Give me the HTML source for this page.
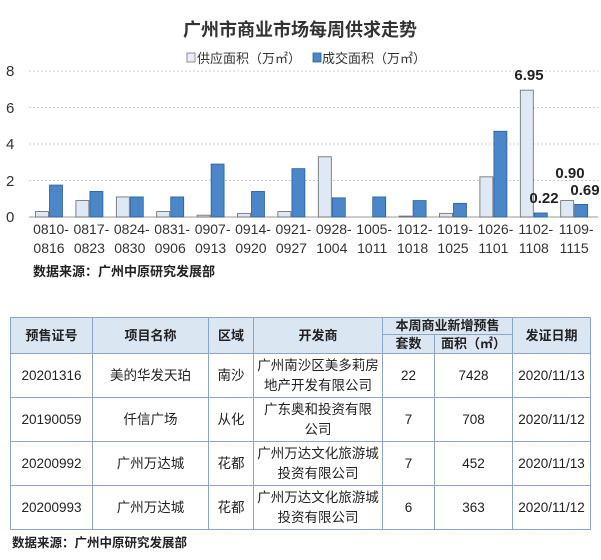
<!DOCTYPE html>
<html><head><meta charset="utf-8"><style>
body{margin:0;background:#fff;width:601px;height:560px;overflow:hidden;position:relative;font-family:"Liberation Sans","Noto Sans CJK SC",sans-serif;}
table{position:absolute;left:10px;top:317px;border-collapse:collapse;width:580px;table-layout:fixed;font-size:13.5px;color:#222}
td,th{border:1.5px solid #8aa5c6;text-align:center;padding:0;line-height:20px}
th{background:#dbe6f3;font-weight:bold;color:#222;font-size:13px;line-height:16px}
.src{position:absolute;font-weight:bold;font-size:12.5px;color:#222}
</style></head><body>
<svg width="601" height="300" style="position:absolute;left:0;top:0" font-family="Liberation Sans, Noto Sans CJK SC, sans-serif">
<text x="300" y="36" text-anchor="middle" font-size="18" font-weight="bold" fill="#333">广州市商业市场每周供求走势</text>
<rect x="187" y="53" width="8" height="9" fill="#e8eef7" stroke="#777" stroke-width="0.8"/>
<text x="197" y="63" font-size="13" fill="#333">供应面积（万㎡）</text>
<rect x="313" y="53" width="8" height="9" fill="#4a86c8" stroke="#2d5f99" stroke-width="0.8"/>
<text x="322" y="63" font-size="13" fill="#333">成交面积（万㎡）</text>
<g stroke="#ccc" stroke-dasharray="2,2" stroke-width="1">
<line x1="29" x2="598" y1="71" y2="71"/><line x1="29" x2="598" y1="107.5" y2="107.5"/><line x1="29" x2="598" y1="144" y2="144"/><line x1="29" x2="598" y1="180.5" y2="180.5"/></g>
<line x1="29" x2="598" y1="217" y2="217" stroke="#999"/>
<g font-size="15" fill="#333"><text x="6" y="76">8</text><text x="6" y="113">6</text><text x="6" y="149">4</text><text x="6" y="186">2</text><text x="6" y="222">0</text></g>
<g id="bars"></g>
<g font-size="15" font-weight="bold" fill="#222" text-anchor="middle">
<text x="529" y="80">6.95</text><text x="544" y="203">0.22</text><text x="570" y="178">0.90</text><text x="585" y="195">0.69</text></g>
<text x="33" y="276" font-size="13" font-weight="bold" fill="#222">数据来源：广州中原研究发展部</text>
</svg>
<script>
var s=[0.3,0.9,1.1,0.3,0.1,0.2,0.3,3.3,0,0.05,0.2,2.2,6.95,0.9],d=[1.75,1.4,1.1,1.1,2.9,1.4,2.65,1.05,1.1,0.9,0.75,4.7,0.22,0.69];
var a=["0810","0817","0824","0831","0907","0914","0921","0928","1005","1012","1019","1026","1102","1109"],b=["0816","0823","0830","0906","0913","0920","0927","1004","1011","1018","1025","1101","1108","1115"];
var h="";for(var i=0;i<14;i++){var c=49+i*40.4,k=18.25;
if(s[i]>0)h+='<rect x="'+(c-13.5)+'" y="'+(217-s[i]*k)+'" width="13" height="'+s[i]*k+'" fill="#dfe8f5" stroke="#666" stroke-width="0.8"/>';
h+='<rect x="'+(c+0.5)+'" y="'+(217-d[i]*k)+'" width="13" height="'+d[i]*k+'" fill="#4a86c8" stroke="#2d5f99" stroke-width="0.8"/>';
h+='<text x="'+(c+2)+'" y="234" font-size="14" fill="#333" text-anchor="middle">'+a[i]+'-</text><text x="'+c+'" y="253" font-size="14" fill="#333" text-anchor="middle">'+b[i]+'</text>';}
document.getElementById("bars").innerHTML=h;
</script>
<table>
<colgroup><col style="width:82px"><col style="width:116px"><col style="width:45px"><col style="width:129px"><col style="width:52px"><col style="width:78px"><col style="width:78px"></colgroup>
<tr style="height:17px"><th rowspan="2">预售证号</th><th rowspan="2">项目名称</th><th rowspan="2">区域</th><th rowspan="2">开发商</th><th colspan="2">本周商业新增预售</th><th rowspan="2">发证日期</th></tr>
<tr style="height:19px"><th>套数</th><th>面积（㎡）</th></tr>
<tr style="height:44px"><td>20201316</td><td>美的华发天珀</td><td>南沙</td><td>广州南沙区美多莉房<br>地产开发有限公司</td><td>22</td><td>7428</td><td>2020/11/13</td></tr>
<tr style="height:44px"><td>20190059</td><td>仟信广场</td><td>从化</td><td>广东奥和投资有限<br>公司</td><td>7</td><td>708</td><td>2020/11/12</td></tr>
<tr style="height:44px"><td>20200992</td><td>广州万达城</td><td>花都</td><td>广州万达文化旅游城<br>投资有限公司</td><td>7</td><td>452</td><td>2020/11/13</td></tr>
<tr style="height:44px"><td>20200993</td><td>广州万达城</td><td>花都</td><td>广州万达文化旅游城<br>投资有限公司</td><td>6</td><td>363</td><td>2020/11/12</td></tr>
</table>
<div class="src" style="left:12px;top:532px">数据来源：广州中原研究发展部</div>
</body></html>
